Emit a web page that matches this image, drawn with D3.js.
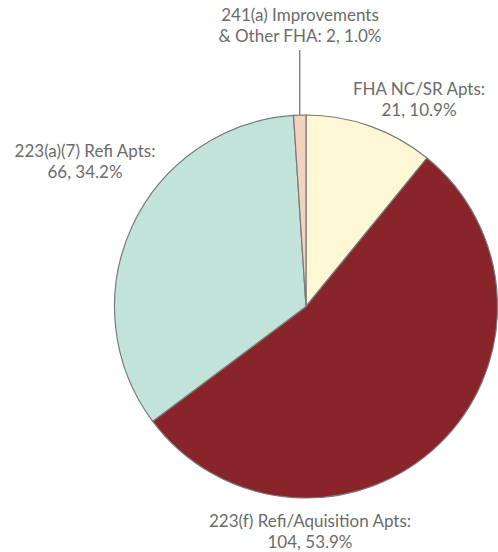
<!DOCTYPE html>
<html>
<head>
<meta charset="utf-8">
<script src="https://cdn.jsdelivr.net/npm/d3@7"></script>
<style>
  body { margin: 0; background: #fff; }
  text { font-family: Lato, "Open Sans", sans-serif; font-size: 17px; fill: #6b6b6b; }
</style>
</head>
<body>
<div id="chart"></div>
<script>
// slices, clockwise from 12 o'clock
var categories = ["FHA NC/SR Apts", "223(f) Refi/Aquisition Apts", "223(a)(7) Refi Apts", "241(a) Improvements & Other FHA"];
var values = [21, 104, 66, 2];
var percents = ["10.9%", "53.9%", "34.2%", "1.0%"];
var colors = ["#fdf7d6", "#88242a", "#c1e3da", "#f2d3bd"];

var width = 498, height = 552;
var cx = 306, cy = 306.5, r = 191.5;

var svg = d3.select("#chart").append("svg")
    .attr("width", width)
    .attr("height", height);

var pie = d3.pie().sort(null).value(function(d) { return d; });
var arc = d3.arc().innerRadius(0).outerRadius(r);
var arcs = pie(values);

var g = svg.append("g").attr("transform", "translate(" + cx + "," + cy + ")");
g.selectAll("path").data(arcs).enter()
    .append("path")
    .attr("d", arc)
    .attr("fill", function(d, i) { return colors[i]; })
    .attr("stroke", "#7a7a7a")
    .attr("stroke-width", 1.2);

// leader line for the tiny slice
var small = arcs[3];
var mid = (small.startAngle + small.endAngle) / 2;
var lx = Math.sin(mid) * r, ly = -Math.cos(mid) * r;
g.append("line")
    .attr("x1", lx).attr("y1", ly)
    .attr("x2", lx).attr("y2", 50 - cy)
    .attr("stroke", "#6b6b6b")
    .attr("stroke-width", 1.2);

// label text, two lines each (one text element per line)
var labels = [
    { lines: [categories[0] + ":", values[0] + ", " + percents[0]], x: 419, y: 95 },
    { lines: [categories[1] + ":", values[1] + ", " + percents[1]], x: 310, y: 527 },
    { lines: [categories[2] + ":", values[2] + ", " + percents[2]], x: 85, y: 157 },
    { lines: ["241(a) Improvements", "& Other FHA: " + values[3] + ", " + percents[3]], x: 300, y: 21 }
];

labels.forEach(function(l) {
    l.lines.forEach(function(s, i) {
        svg.append("text")
            .attr("text-anchor", "middle")
            .attr("x", l.x)
            .attr("y", l.y + i * 20.5)
            .text(s);
    });
});
</script>
</body>
</html>
